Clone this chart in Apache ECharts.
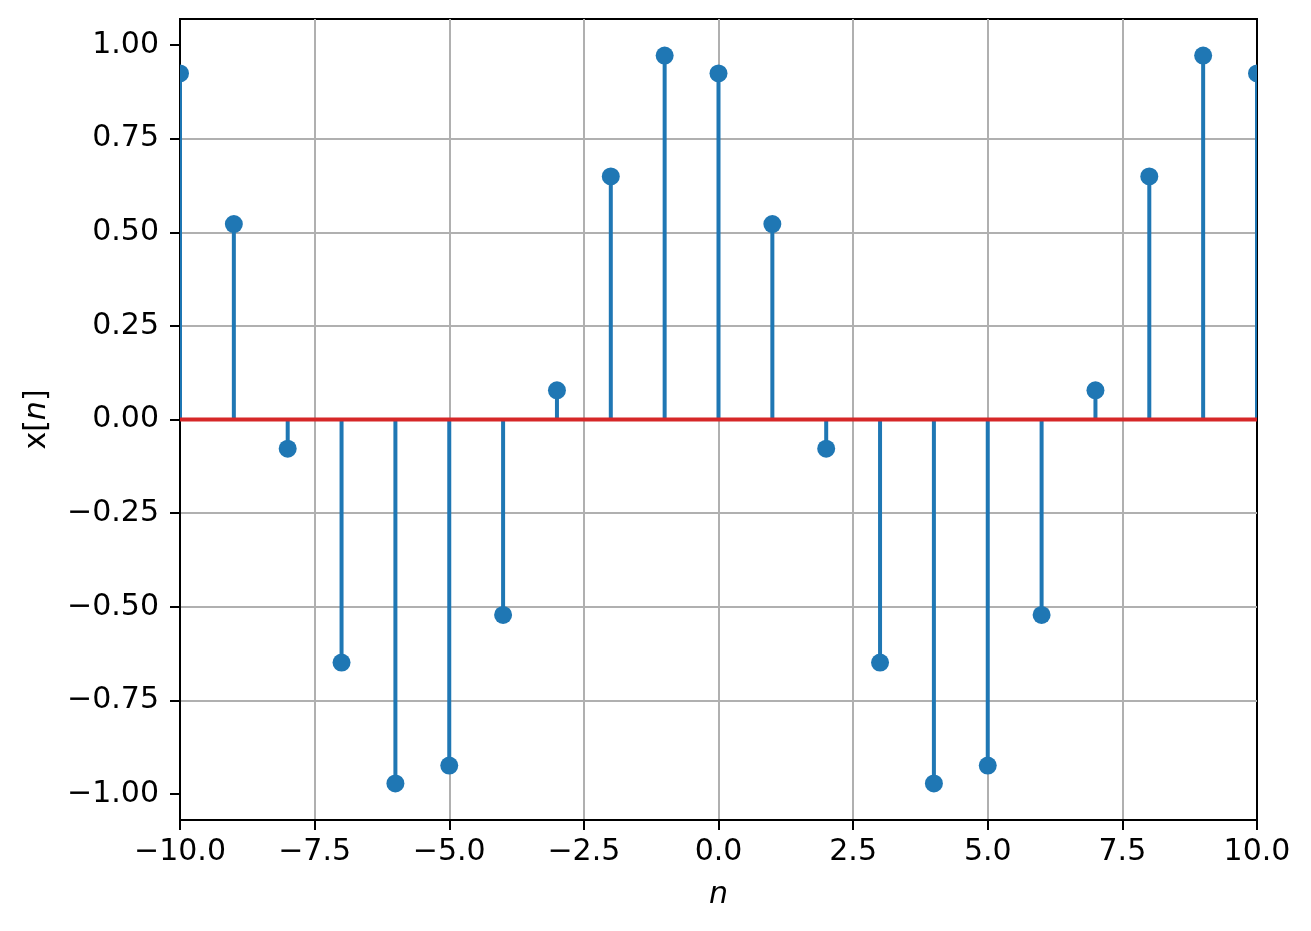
<!DOCTYPE html>
<html>
<head>
<meta charset="utf-8">
<script src="https://cdn.jsdelivr.net/npm/echarts@6/dist/echarts.min.js"></script>
<style>
html,body{margin:0;padding:0;background:#fff;}
#main{width:1311px;height:931px;}
</style>
</head>
<body>
<div id="main"></div>
<script>
// sample index n and value x[n]
var nValues = [-10, -9, -8, -7, -6, -5, -4, -3, -2, -1, 0, 1, 2, 3, 4, 5, 6, 7, 8, 9, 10];
var xValues = [0.924, 0.522, -0.078, -0.649, -0.972, -0.924, -0.522, 0.078, 0.649, 0.972,
               0.924, 0.522, -0.078, -0.649, -0.972, -0.924, -0.522, 0.078, 0.649, 0.972, 0.924];
var xTicks = [-10, -7.5, -5, -2.5, 0, 2.5, 5, 7.5, 10];
var yTicks = [-1, -0.75, -0.5, -0.25, 0, 0.25, 0.5, 0.75, 1];
var xLim = [-10, 10];
var yLim = [-1.0695, 1.0695];

var points = [];
for (var i = 0; i < nValues.length; i++) {
    points.push([nValues[i], xValues[i]]);
}

function minus(s) { return s.replace('-', '\u2212'); }

var myChart = echarts.init(document.getElementById('main'));
var font = 'DejaVu Sans';

option = {
    backgroundColor: '#fff',
    animation: false,
    textStyle: {fontFamily: font},
    grid: {
        left: 180,
        right: 54,
        top: 19,
        bottom: 111,
        show: true,
        borderColor: '#000',
        borderWidth: 2,
        backgroundColor: 'transparent'
    },
    xAxis: {
        type: 'value',
        min: xLim[0],
        max: xLim[1],
        interval: 2.5,
        name: 'n',
        nameLocation: 'middle',
        nameGap: 60,
        nameTextStyle: {fontSize: 30, fontStyle: 'italic', color: '#000', fontFamily: font},
        axisLine: {show: true, onZero: false, lineStyle: {color: '#000', width: 2}},
        axisTick: {show: true, inside: false, length: 10, lineStyle: {color: '#000', width: 2}, customValues: xTicks},
        axisLabel: {
            fontSize: 30, color: '#000', margin: 17, fontFamily: font,
            customValues: xTicks,
            formatter: function (v) { return minus(v.toFixed(1)); }
        },
        splitLine: {show: true, showMinLine: false, showMaxLine: false, lineStyle: {color: '#b0b0b0', width: 2}}
    },
    yAxis: {
        type: 'value',
        min: yLim[0],
        max: yLim[1],
        minInterval: 0.25,
        maxInterval: 0.25,
        name: 'x[{i|n}]',
        nameLocation: 'middle',
        nameGap: 128,
        nameRotate: 90,
        nameTextStyle: {
            fontSize: 30, color: '#000', fontFamily: font,
            rich: {i: {fontSize: 30, fontStyle: 'italic', color: '#000', fontFamily: font}}
        },
        axisLine: {show: true, onZero: false, lineStyle: {color: '#000', width: 2}},
        axisTick: {show: true, inside: false, length: 10, lineStyle: {color: '#000', width: 2}, customValues: yTicks},
        axisLabel: {
            fontSize: 30, color: '#000', margin: 21, fontFamily: font,
            customValues: yTicks,
            formatter: function (v) { return minus(v.toFixed(2)); }
        },
        splitLine: {show: true, showMinLine: false, showMaxLine: false, lineStyle: {color: '#b0b0b0', width: 2}}
    },
    series: [
        {
            // stems
            type: 'custom',
            clip: true,
            z: 3,
            data: points,
            renderItem: function (params, api) {
                var top = api.coord([api.value(0), api.value(1)]);
                var base = api.coord([api.value(0), 0]);
                return {
                    type: 'line',
                    shape: {x1: base[0], y1: base[1], x2: top[0], y2: top[1]},
                    style: {stroke: '#1f77b4', lineWidth: 4}
                };
            }
        },
        {
            // markers
            type: 'custom',
            clip: true,
            z: 4,
            data: points,
            renderItem: function (params, api) {
                var p = api.coord([api.value(0), api.value(1)]);
                return {
                    type: 'circle',
                    shape: {cx: p[0], cy: p[1], r: 9},
                    style: {fill: '#1f77b4'}
                };
            }
        },
        {
            // baseline
            type: 'line',
            z: 5,
            showSymbol: false,
            symbol: 'none',
            data: [[xLim[0], 0], [xLim[1], 0]],
            lineStyle: {color: '#d62728', width: 4}
        }
    ]
};
myChart.setOption(option);
</script>
</body>
</html>
